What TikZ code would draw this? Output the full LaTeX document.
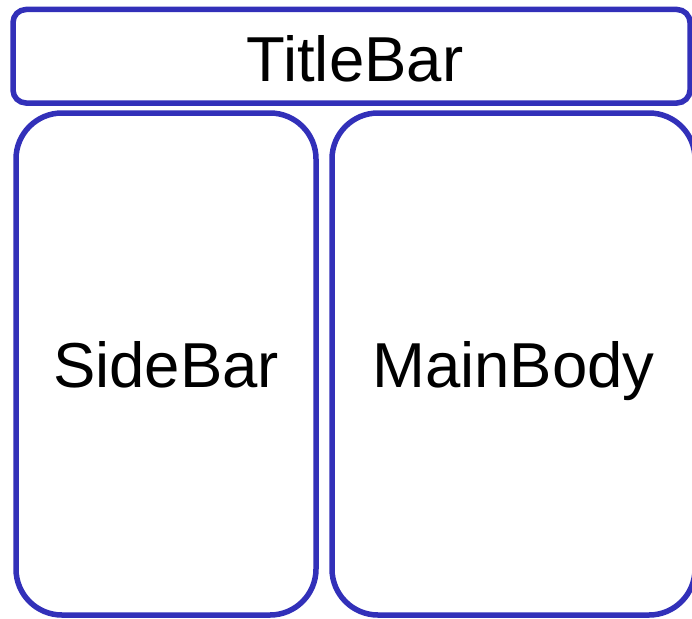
\documentclass[tikz,border=0pt]{standalone}
\usepackage{fontspec}
\setmainfont{Liberation Sans}
\definecolor{frameblue}{RGB}{50,48,185}
\begin{document}
\begin{tikzpicture}[x=1pt,y=-1pt,
  panel/.style={draw=frameblue, line width=5.5pt, fill=white, inner sep=0pt,
    text height=46pt, text depth=0pt,
    font=\fontsize{63.5}{70}\selectfont},
]
\useasboundingbox (0,0) rectangle (692,618);
% header strip
\node[panel, rounded corners=13pt, minimum width=677pt, minimum height=93.5pt]
  (title) at (351.5,56.25) {};
\node[font=\fontsize{63.5}{70}\selectfont, inner sep=0pt, anchor=base]
  (titletext) at (355,81.5) {TitleBar};
% left column
\node[panel, rounded corners=46pt, minimum width=300pt, minimum height=502pt]
  (side) at (166,364) {SideBar};
% right column, running past the right margin
\node[panel, rounded corners=46pt, minimum width=363pt, minimum height=502pt]
  (main) at (513.5,364) {MainBody};
\end{tikzpicture}
\end{document}
